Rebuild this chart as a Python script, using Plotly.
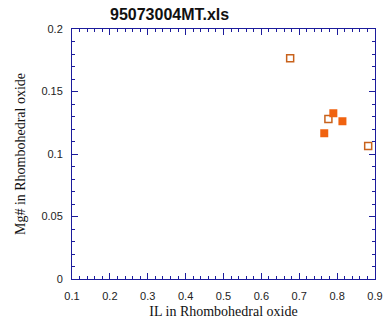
import plotly.graph_objects as go

# Rhombohedral oxide compositions
il_filled = [0.790, 0.814, 0.766]
mg_filled = [0.1326, 0.1262, 0.1166]

il_open = [0.676, 0.777, 0.882]
mg_open = [0.1766, 0.1280, 0.1064]

x_ticks = [0.1, 0.2, 0.3, 0.4, 0.5, 0.6, 0.7, 0.8, 0.9]
y_ticks = [0, 0.05, 0.1, 0.15, 0.2]

axis_col = "#1c1c9c"
tick_font = dict(family="Liberation Sans, Arial", size=11, color="#222222")
title_font = dict(family="Liberation Serif, Times New Roman", size=14, color="#111111")

fig = go.Figure()
fig.add_trace(go.Scatter(
    x=il_open, y=mg_open, mode="markers",
    marker=dict(symbol="square-open", size=7, color="#c8621c", line=dict(width=1.5, color="#c8621c")),
    showlegend=False,
))
fig.add_trace(go.Scatter(
    x=il_filled, y=mg_filled, mode="markers",
    marker=dict(symbol="square", size=8, color="#f0620f", line=dict(width=0)),
    showlegend=False,
))
# invisible trace to activate the mirrored axes
fig.add_trace(go.Scatter(x=[None], y=[None], xaxis="x2", yaxis="y2", showlegend=False))

common = dict(showgrid=False, zeroline=False, showline=True, linecolor=axis_col, linewidth=1,
              ticks="inside", tickcolor=axis_col, ticklen=6, tickwidth=1, automargin=False)

fig.update_layout(
    width=390, height=323,
    margin=dict(l=72, r=15, t=29, b=44),
    paper_bgcolor="white", plot_bgcolor="white",
    xaxis=dict(range=[0.1, 0.9], tickvals=x_ticks, ticktext=[str(v) for v in x_ticks],
               tickfont=tick_font, ticklabelstandoff=7,
               title=dict(text="IL in Rhombohedral oxide", font=title_font, standoff=4),
               minor=dict(dtick=0.02, ticklen=3, ticks="inside", tickcolor=axis_col),
               **common),
    yaxis=dict(range=[0, 0.2], tickvals=y_ticks, ticktext=["0", "0.05", "0.1", "0.15", "0.2"],
               tickfont=tick_font, ticklabelstandoff=6,
               title=dict(text="Mg# in Rhombohedral oxide", font=title_font, standoff=12),
               minor=dict(dtick=0.01, ticklen=3, ticks="inside", tickcolor=axis_col),
               **common),
    xaxis2=dict(range=[0.1, 0.9], overlaying="x", side="top", tickvals=x_ticks,
                showticklabels=False,
                minor=dict(dtick=0.02, ticklen=3, ticks="inside", tickcolor=axis_col),
                **common),
    yaxis2=dict(range=[0, 0.2], overlaying="y", side="right", tickvals=y_ticks,
                showticklabels=False,
                minor=dict(dtick=0.01, ticklen=3, ticks="inside", tickcolor=axis_col),
                **common),
    annotations=[dict(text="<b>95073004MT.xls</b>", xref="paper", yref="paper",
                      x=0.12, y=1.0, xanchor="left", yanchor="bottom", yshift=4,
                      showarrow=False,
                      font=dict(family="Liberation Sans, Arial", size=16, color="#111111"))],
)

fig.write_html("out.html")
